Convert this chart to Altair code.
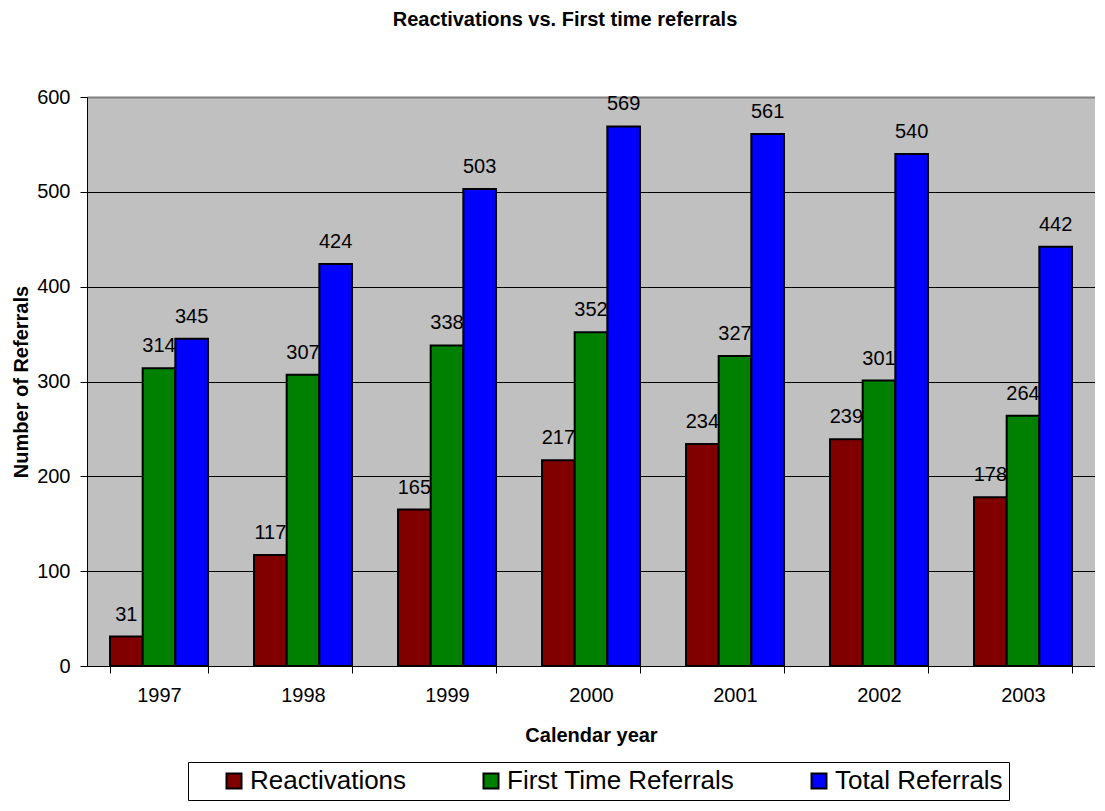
import altair as alt
import pandas as pd

years = ["1997", "1998", "1999", "2000", "2001", "2002", "2003"]
reactivations = [31, 117, 165, 217, 234, 239, 178]
first_time = [314, 307, 338, 352, 327, 301, 264]
total = [345, 424, 503, 569, 561, 540, 442]
series_names = ["Reactivations", "First Time Referrals", "Total Referrals"]
series_colors = ["#800000", "#008000", "#0000FF"]
y_ticks = [0, 100, 200, 300, 400, 500, 600]

rows = []
for i, yr in enumerate(years):
    for name, vals in zip(series_names, [reactivations, first_time, total]):
        rows.append({"year": yr, "series": name, "value": vals[i]})
df = pd.DataFrame(rows)

FONT = "Liberation Sans"

x_enc = alt.X(
    "year:N",
    title="Calendar year",
    sort=years,
    scale=alt.Scale(paddingInner=0.32, paddingOuter=0.16),
    axis=alt.Axis(
        labelAngle=0, tickBand="extent", tickSize=7, tickColor="black",
        domainColor="black", labelFontSize=20, labelFont=FONT, labelColor="black",
        labelPadding=12, titleFontSize=20, titleFont=FONT, titleFontWeight="bold",
        titleColor="black", titlePadding=20, grid=False,
    ),
)
xoff = alt.XOffset("series:N", sort=series_names,
                   scale=alt.Scale(domain=series_names, paddingInner=0, paddingOuter=0))
y_enc = alt.Y(
    "value:Q",
    title="Number of Referrals",
    scale=alt.Scale(domain=[0, 600], nice=False),
    axis=alt.Axis(
        values=y_ticks, tickSize=7, tickColor="black", domainColor="black",
        labelFontSize=20, labelFont=FONT, labelColor="black", labelPadding=10,
        titleFontSize=20, titleFont=FONT, titleFontWeight="bold", titleColor="black",
        titlePadding=5, grid=True,
        gridColor={"condition": {"test": "datum.value == 600", "value": "#808080"}, "value": "#000000"},
        gridWidth={"condition": {"test": "datum.value == 600", "value": 2}, "value": 1},
    ),
)

bars = alt.Chart(df).mark_bar(stroke="black", strokeWidth=2).encode(
    x=x_enc,
    xOffset=xoff,
    y=y_enc,
    color=alt.Color(
        "series:N",
        sort=series_names,
        scale=alt.Scale(domain=series_names, range=series_colors),
        legend=alt.Legend(
            title=" ", titleOrient="left", titleFontSize=1, titlePadding=27,
            orient="none", legendX=101, legendY=665, direction="horizontal",
            columnPadding=71, labelFontSize=26, labelFont=FONT, labelColor="black",
            labelOffset=3, labelLimit=0, symbolType="square", symbolSize=225,
            symbolStrokeColor="black", symbolStrokeWidth=2, symbolOpacity=1,
            strokeColor="black", fillColor="white", padding=6,
        ),
    ),
)

labels = alt.Chart(df).mark_text(
    dy=-16, baseline="alphabetic", fontSize=20, font=FONT, color="black"
).encode(x=x_enc, xOffset=xoff, y=y_enc, text="value:Q")

chart = alt.layer(bars, labels).properties(
    width=1008,
    height=569,
    padding={"left": 3, "top": 2, "right": 0, "bottom": 0},
    title=alt.TitleParams(
        "Reactivations vs. First time referrals", fontSize=20, font=FONT,
        fontWeight="bold", color="black", anchor="middle", offset=57, dx=-26,
    ),
).configure_view(fill="#C0C0C0", stroke=None)

chart.save("out.html", embed_options={"renderer": "svg", "actions": False})
